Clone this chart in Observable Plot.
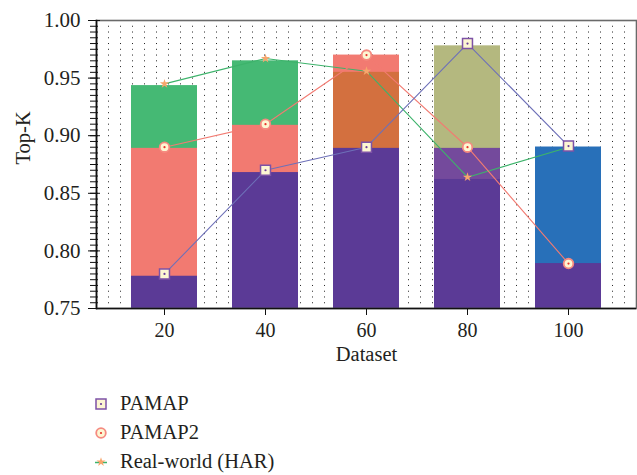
<!DOCTYPE html>
<html>
<head>
<meta charset="utf-8">
<script src="https://cdn.jsdelivr.net/npm/d3@7"></script>
<script src="https://cdn.jsdelivr.net/npm/@observablehq/plot@0.6"></script>
<style>
  html, body { margin: 0; padding: 0; background: #fff; }
  body { width: 637px; height: 475px; overflow: hidden; font-family: "Liberation Serif", serif; color: #231f20; }
  #legend { padding-left: 92px; padding-top: 14px; font-size: 20.5px; }
  .row { height: 29px; display: flex; align-items: center; }
  .row svg { margin-right: 10px; flex: none; }
</style>
</head>
<body>
<div id="chart"></div>
<div id="legend"></div>
<script>
// ---- data ----
const datasets = ["20", "40", "60", "80", "100"];
const seriesNames = ["PAMAP", "PAMAP2", "Real-world (HAR)"];

// line / marker values
const pamap   = [0.780, 0.870, 0.890, 0.980, 0.891];
const pamap2  = [0.890, 0.910, 0.970, 0.890, 0.789];
const realHAR = [0.945, 0.967, 0.956, 0.864, 0.890];

// overlapping bar heights
const barPamap   = [0.778, 0.868, 0.889, 0.978, 0.890];
const barPamap2  = [0.889, 0.909, 0.970, 0.889, 0.789];
const barRealHAR = [0.9435, 0.965, 0.955, 0.862, 0.890];

// bar fills
const fillPamap   = ["#5b3a96", "#5b3a96", "#5b3a96", "#b4b87f", "#2870b9"];
const fillPamap2  = ["#f27a71", "#f27a71", "#f27a71", "#744a9c", "#5b3a96"];
const fillRealHAR = ["#45b974", "#45b974", "#d3703f", "#5b3a96", "#2870b9"];

const yDomain = [0.75, 1.00];
const yTicks = [0.75, 0.80, 0.85, 0.90, 0.95, 1.00];
const yMinorTicks = d3.range(150, 201).map(k => k / 200);

// ---- styles ----
const lineColors = ["#6e70b8", "#f27b72", "#3db36b"];
const cream = "#fdf6d2";

// ---- tables ----
const bars = [];
datasets.forEach((d, i) => {
  bars.push({x: d, base: yDomain[0], v: barPamap[i], fill: fillPamap[i]});
  bars.push({x: d, base: yDomain[0], v: barPamap2[i], fill: fillPamap2[i]});
  bars.push({x: d, base: yDomain[0], v: barRealHAR[i], fill: fillRealHAR[i]});
});
bars.sort((a, b) => b.v - a.v);

const pts = vals => datasets.map((d, i) => ({x: d, y: vals[i]}));
const pPamap = pts(pamap), pPamap2 = pts(pamap2), pReal = pts(realHAR);

const chart = Plot.plot({
  width: 637,
  height: 375,
  marginLeft: 96,
  marginRight: 1,
  marginTop: 20,
  marginBottom: 67,
  style: {fontFamily: "'Liberation Serif', serif", fontSize: "20px", color: "#231f20", background: "#fff"},
  x: {type: "band", domain: datasets, paddingInner: 0.35, paddingOuter: 0.331, align: 0.5},
  y: {domain: yDomain},
  color: {type: "identity"},
  marks: [
    Plot.ruleY(yMinorTicks, {stroke: "#222", strokeWidth: 1, strokeDasharray: "1,11"}),
    Plot.barY(bars, {x: "x", y1: "base", y2: "v", fill: "fill"}),
    Plot.frame({stroke: "#6a6a6a", strokeWidth: 1.6}),
    Plot.line(pReal, {x: "x", y: "y", stroke: lineColors[2], strokeWidth: 1.1}),
    Plot.line(pPamap2, {x: "x", y: "y", stroke: lineColors[1], strokeWidth: 1.1}),
    Plot.line(pPamap, {x: "x", y: "y", stroke: lineColors[0], strokeWidth: 1.1}),
    Plot.dot(pReal, {x: "x", y: "y", symbol: "star", r: 2.9, fill: "#f7a66c", stroke: "none"}),
    Plot.dot(pPamap2, {x: "x", y: "y", symbol: "circle", r: 4.8, fill: cream, stroke: "#f58a80", strokeWidth: 1.8}),
    Plot.dot(pPamap2, {x: "x", y: "y", r: 1.1, fill: "#e8322a", stroke: "none"}),
    Plot.dot(pPamap, {x: "x", y: "y", symbol: "square", r: 5.6, fill: cream, stroke: "#7d52a6", strokeWidth: 1.5}),
    Plot.dot(pPamap, {x: "x", y: "y", r: 1.1, fill: "#6a3d9a", stroke: "none"}),
    Plot.ruleY([yDomain[0]], {stroke: "#111", strokeWidth: 1.6}),
    Plot.frame({anchor: "left", stroke: "#111", strokeWidth: 1.6}),
    Plot.axisY(yMinorTicks, {tickSize: 8, dx: 2, tickFormat: () => "", stroke: "#111"}),
    Plot.axisY(yTicks, {tickSize: 12, dx: 4, tickPadding: 8, tickFormat: ".2f", stroke: "#111", fill: "#231f20", fontSize: 21}),
    Plot.axisX({tickSize: 7, tickPadding: 7, stroke: "#111", fill: "#231f20", fontSize: 20, label: null}),
    Plot.text(["Dataset"], {text: d => d, frameAnchor: "bottom", dy: 52, fontSize: 20.5, fill: "#231f20"}),
    Plot.text(["Top-K"], {text: d => d, frameAnchor: "left", rotate: -90, dx: -73, fontSize: 20.5, fill: "#231f20"})
  ]
});
document.getElementById("chart").appendChild(chart);

// ---- legend ----
const swatches = [
  `<svg width="18" height="18" viewBox="-9 -9 18 18"><rect x="-5" y="-5" width="10" height="10" fill="${cream}" stroke="#7d52a6" stroke-width="1.5"/><circle r="1.1" fill="#6a3d9a"/></svg>`,
  `<svg width="18" height="18" viewBox="-9 -9 18 18"><circle r="4.8" fill="${cream}" stroke="#f58a80" stroke-width="1.8"/><circle r="1.1" fill="#e8322a"/></svg>`,
  `<svg width="18" height="18" viewBox="-9 -9 18 18"><line x1="-6" x2="6" y1="0.5" y2="0.5" stroke="${lineColors[2]}" stroke-width="1.5"/><path d="${d3.symbol(d3.symbolStar, Math.PI * 2.9 * 2.9)()}" fill="#f7a66c"/></svg>`
];
const legend = document.getElementById("legend");
seriesNames.forEach((name, i) => {
  const row = document.createElement("div");
  row.className = "row";
  row.innerHTML = swatches[i] + `<span>${name}</span>`;
  legend.appendChild(row);
});
</script>
</body>
</html>
